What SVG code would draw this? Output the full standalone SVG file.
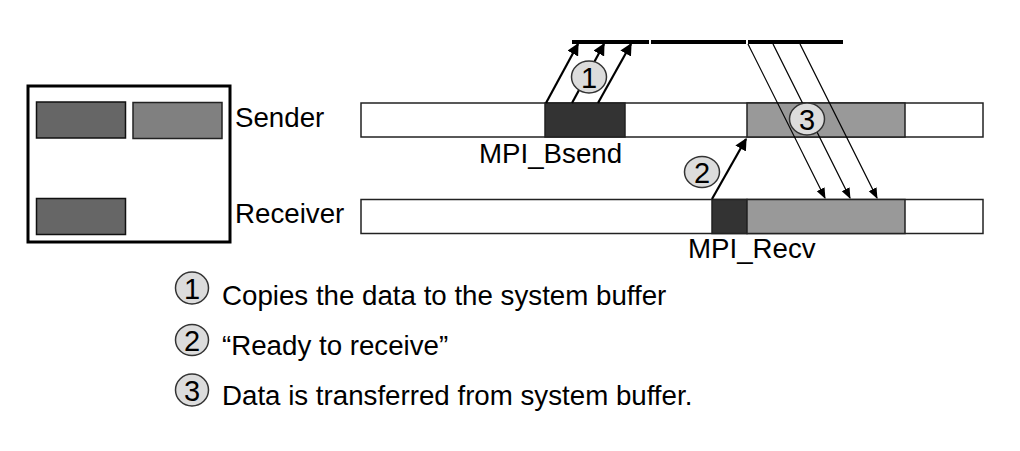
<svg xmlns="http://www.w3.org/2000/svg" width="1020" height="451" viewBox="0 0 1020 451">
<style>
text{font-family:"Liberation Sans",Arial,sans-serif;fill:#000}
.lbl{font-size:27.7px}
.num{font-size:29px;text-anchor:middle}
.bar{stroke:#222;stroke-width:1.5}
.badge{fill:#dcdcdc;stroke:#333;stroke-width:1.5}
.thick{stroke:#000;stroke-width:2.2;fill:none}
.thin{stroke:#000;stroke-width:1.2;fill:none}
</style>
<defs>
<marker id="ah" viewBox="0 0 10 10" refX="9" refY="5" markerWidth="5.5" markerHeight="5.5" orient="auto" markerUnits="strokeWidth">
<path d="M0,0 L10,5 L0,10 z" fill="#000"/>
</marker>
<marker id="ah2" viewBox="0 0 10 10" refX="9" refY="5" markerWidth="9" markerHeight="9" orient="auto" markerUnits="strokeWidth">
<path d="M0,1 L10,5 L0,9 z" fill="#000"/>
</marker>
</defs>
<rect width="1020" height="451" fill="#fff"/>

<g id="legend-box">
<rect x="28" y="86" width="202" height="156" fill="#fff" stroke="#000" stroke-width="3"/>
<rect x="36.5" y="102" width="89" height="36" fill="#666" stroke="#111" stroke-width="1.5"/>
<rect x="133" y="102.5" width="89" height="36" fill="#808080" stroke="#222" stroke-width="1.5"/>
<rect x="36.5" y="198.5" width="89" height="36" fill="#666" stroke="#111" stroke-width="1.5"/>
</g>

<g id="sender">
<text class="lbl" x="235" y="127">Sender</text>
<rect class="bar" x="361" y="103" width="622" height="34" fill="#fff"/>
<rect class="bar" x="545" y="103" width="80" height="34" fill="#333"/>
<rect class="bar" x="747" y="103" width="158" height="34" fill="#999"/>
<text class="lbl" x="479" y="163">MPI_Bsend</text>
</g>

<g id="receiver">
<text class="lbl" x="235" y="223">Receiver</text>
<rect class="bar" x="361" y="199.5" width="622" height="34" fill="#fff" stroke="#000"/>
<rect class="bar" x="712" y="199.5" width="35" height="34" fill="#333"/>
<rect class="bar" x="747" y="199.5" width="158" height="34" fill="#999"/>
<text class="lbl" x="688" y="258">MPI_Recv</text>
</g>

<g id="system-buffer">
<line x1="572" y1="42" x2="649" y2="42" stroke="#000" stroke-width="4"/>
<line x1="651" y1="42" x2="746" y2="42" stroke="#000" stroke-width="4"/>
<line x1="748" y1="42" x2="843" y2="42" stroke="#000" stroke-width="4"/>
</g>

<g id="connectors">
<line class="thick" x1="546" y1="103" x2="578" y2="44" marker-end="url(#ah)"/>
<line class="thick" x1="572" y1="103" x2="604" y2="44" marker-end="url(#ah)"/>
<line class="thick" x1="598" y1="103" x2="631" y2="44" marker-end="url(#ah)"/>
<line class="thick" x1="712" y1="199" x2="746" y2="139" marker-end="url(#ah)"/>
<line class="thin" x1="748" y1="44" x2="825" y2="198" marker-end="url(#ah2)"/>
<line class="thin" x1="773" y1="44" x2="850" y2="198" marker-end="url(#ah2)"/>
<line class="thin" x1="800" y1="44" x2="877" y2="198" marker-end="url(#ah2)"/>
</g>

<g id="badge-1">
<ellipse class="badge" cx="589" cy="77" rx="17.5" ry="16"/>
<text class="num" x="589" y="87.5">1</text>
</g>
<g id="badge-2">
<ellipse class="badge" cx="702" cy="172" rx="17.5" ry="15.5"/>
<text class="num" x="702" y="182.5">2</text>
</g>
<g id="badge-3">
<ellipse class="badge" cx="807" cy="119" rx="17.5" ry="16"/>
<text class="num" x="807" y="129.5">3</text>
</g>

<g id="legend-1">
<ellipse class="badge" cx="192" cy="288" rx="16.5" ry="16"/>
<text class="num" x="192" y="298.5">1</text>
<text class="lbl" x="222" y="305">Copies the data to the system buffer</text>
</g>
<g id="legend-2">
<ellipse class="badge" cx="192" cy="340" rx="16.5" ry="15.5"/>
<text class="num" x="192" y="350.5">2</text>
<text class="lbl" x="222" y="355">“Ready to receive”</text>
</g>
<g id="legend-3">
<ellipse class="badge" cx="192" cy="390" rx="16.5" ry="16"/>
<text class="num" x="192" y="400.5">3</text>
<text class="lbl" x="222" y="405">Data is transferred from system buffer.</text>
</g>
</svg>
